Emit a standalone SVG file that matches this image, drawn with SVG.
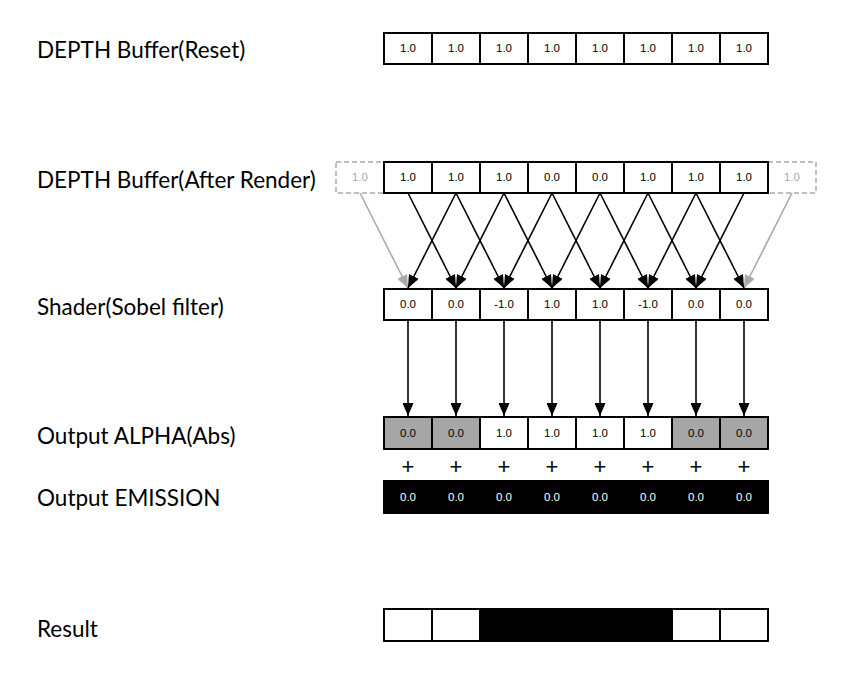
<svg xmlns="http://www.w3.org/2000/svg" width="849" height="674" viewBox="0 0 849 674">
<style>
.lbl{font-family:Lato,"Noto Sans",sans-serif;font-size:22.5px;fill:#000}
.v{font-family:"Liberation Sans",Arial,sans-serif;font-size:11.5px;text-anchor:middle;fill:#000}
.vw{font-family:"Liberation Sans",Arial,sans-serif;font-size:11.5px;text-anchor:middle;fill:#fff}
.vg{font-family:"Liberation Sans",Arial,sans-serif;font-size:11.5px;text-anchor:middle;fill:#aaa}
.c{fill:#fff;stroke:#000;stroke-width:2}
.cg{fill:#a6a6a6;stroke:#000;stroke-width:2}
.cd{fill:none;stroke:#aaa;stroke-width:1.5;stroke-dasharray:5,3}
.a{stroke:#000;stroke-width:1.6;fill:none}
.ag{stroke:#aaa;stroke-width:1.6;fill:none}
.plus{font-family:"Liberation Sans",Arial,sans-serif;font-size:22px;text-anchor:middle;fill:#000}
</style>
<defs>
<marker id="ab" markerUnits="userSpaceOnUse" markerWidth="13" markerHeight="11" refX="13" refY="5.5" orient="auto"><path d="M0,0 L13,5.5 L0,11 z" fill="#000"/></marker>
<marker id="agm" markerUnits="userSpaceOnUse" markerWidth="13" markerHeight="11" refX="13" refY="5.5" orient="auto"><path d="M0,0 L13,5.5 L0,11 z" fill="#aaa"/></marker>
</defs>
<rect width="849" height="674" fill="#fff"/>

<g id="label-reset"><text class="lbl" x="37" y="58">DEPTH Buffer(Reset)</text></g>
<g id="label-after"><text class="lbl" x="37" y="188">DEPTH Buffer(After Render)</text></g>
<g id="label-shader"><text class="lbl" x="37" y="315">Shader(Sobel filter)</text></g>
<g id="label-alpha"><text class="lbl" x="37" y="444">Output ALPHA(Abs)</text></g>
<g id="label-emission"><text class="lbl" x="37" y="506">Output EMISSION</text></g>
<g id="label-result"><text class="lbl" x="37" y="637">Result</text></g>

<g id="row-reset">
<rect class="c" x="384" y="33" width="48" height="31"/><rect class="c" x="432" y="33" width="48" height="31"/><rect class="c" x="480" y="33" width="48" height="31"/><rect class="c" x="528" y="33" width="48" height="31"/><rect class="c" x="576" y="33" width="48" height="31"/><rect class="c" x="624" y="33" width="48" height="31"/><rect class="c" x="672" y="33" width="48" height="31"/><rect class="c" x="720" y="33" width="48" height="31"/>
<text class="v" x="408" y="52">1.0</text><text class="v" x="456" y="52">1.0</text><text class="v" x="504" y="52">1.0</text><text class="v" x="552" y="52">1.0</text><text class="v" x="600" y="52">1.0</text><text class="v" x="648" y="52">1.0</text><text class="v" x="696" y="52">1.0</text><text class="v" x="744" y="52">1.0</text>
</g>

<g id="row-after">
<rect class="cd" x="336" y="162" width="48" height="31"/>
<rect class="cd" x="768" y="162" width="48" height="31"/>
<text class="vg" x="360" y="181">1.0</text><text class="vg" x="792" y="181">1.0</text>
<rect class="c" x="384" y="162" width="48" height="31"/><rect class="c" x="432" y="162" width="48" height="31"/><rect class="c" x="480" y="162" width="48" height="31"/><rect class="c" x="528" y="162" width="48" height="31"/><rect class="c" x="576" y="162" width="48" height="31"/><rect class="c" x="624" y="162" width="48" height="31"/><rect class="c" x="672" y="162" width="48" height="31"/><rect class="c" x="720" y="162" width="48" height="31"/>
<text class="v" x="408" y="181">1.0</text><text class="v" x="456" y="181">1.0</text><text class="v" x="504" y="181">1.0</text><text class="v" x="552" y="181">0.0</text><text class="v" x="600" y="181">0.0</text><text class="v" x="648" y="181">1.0</text><text class="v" x="696" y="181">1.0</text><text class="v" x="744" y="181">1.0</text>
</g>

<g id="row-shader">
<rect class="c" x="384" y="289" width="48" height="31"/><rect class="c" x="432" y="289" width="48" height="31"/><rect class="c" x="480" y="289" width="48" height="31"/><rect class="c" x="528" y="289" width="48" height="31"/><rect class="c" x="576" y="289" width="48" height="31"/><rect class="c" x="624" y="289" width="48" height="31"/><rect class="c" x="672" y="289" width="48" height="31"/><rect class="c" x="720" y="289" width="48" height="31"/>
<text class="v" x="408" y="308">0.0</text><text class="v" x="456" y="308">0.0</text><text class="v" x="504" y="308">-1.0</text><text class="v" x="552" y="308">1.0</text><text class="v" x="600" y="308">1.0</text><text class="v" x="648" y="308">-1.0</text><text class="v" x="696" y="308">0.0</text><text class="v" x="744" y="308">0.0</text>
</g>

<g id="row-alpha">
<rect class="cg" x="384" y="417" width="48" height="32"/><rect class="cg" x="432" y="417" width="48" height="32"/><rect class="c" x="480" y="417" width="48" height="32"/><rect class="c" x="528" y="417" width="48" height="32"/><rect class="c" x="576" y="417" width="48" height="32"/><rect class="c" x="624" y="417" width="48" height="32"/><rect class="cg" x="672" y="417" width="48" height="32"/><rect class="cg" x="720" y="417" width="48" height="32"/>
<text class="v" x="408" y="437">0.0</text><text class="v" x="456" y="437">0.0</text><text class="v" x="504" y="437">1.0</text><text class="v" x="552" y="437">1.0</text><text class="v" x="600" y="437">1.0</text><text class="v" x="648" y="437">1.0</text><text class="v" x="696" y="437">0.0</text><text class="v" x="744" y="437">0.0</text>
</g>

<g id="plus-signs">
<text class="plus" x="408" y="474">+</text><text class="plus" x="456" y="474">+</text><text class="plus" x="504" y="474">+</text><text class="plus" x="552" y="474">+</text><text class="plus" x="600" y="474">+</text><text class="plus" x="648" y="474">+</text><text class="plus" x="696" y="474">+</text><text class="plus" x="744" y="474">+</text>
</g>

<g id="row-emission">
<rect x="383" y="480" width="386" height="34" fill="#000"/>
<text class="vw" x="408" y="501">0.0</text><text class="vw" x="456" y="501">0.0</text><text class="vw" x="504" y="501">0.0</text><text class="vw" x="552" y="501">0.0</text><text class="vw" x="600" y="501">0.0</text><text class="vw" x="648" y="501">0.0</text><text class="vw" x="696" y="501">0.0</text><text class="vw" x="744" y="501">0.0</text>
</g>

<g id="row-result">
<rect class="c" x="384" y="609" width="48" height="32"/><rect class="c" x="432" y="609" width="48" height="32"/>
<rect x="480" y="609" width="192" height="32" fill="#000" stroke="#000" stroke-width="2"/>
<rect class="c" x="672" y="609" width="48" height="32"/><rect class="c" x="720" y="609" width="48" height="32"/>
</g>

<g id="connectors">
<line class="ag" x1="360" y1="193" x2="408" y2="288" marker-end="url(#agm)"/>
<line class="ag" x1="792" y1="193" x2="744" y2="288" marker-end="url(#agm)"/>
<line class="a" x1="408" y1="193" x2="456" y2="288" marker-end="url(#ab)"/>
<line class="a" x1="456" y1="193" x2="408" y2="288" marker-end="url(#ab)"/>
<line class="a" x1="456" y1="193" x2="504" y2="288" marker-end="url(#ab)"/>
<line class="a" x1="504" y1="193" x2="456" y2="288" marker-end="url(#ab)"/>
<line class="a" x1="504" y1="193" x2="552" y2="288" marker-end="url(#ab)"/>
<line class="a" x1="552" y1="193" x2="504" y2="288" marker-end="url(#ab)"/>
<line class="a" x1="552" y1="193" x2="600" y2="288" marker-end="url(#ab)"/>
<line class="a" x1="600" y1="193" x2="552" y2="288" marker-end="url(#ab)"/>
<line class="a" x1="600" y1="193" x2="648" y2="288" marker-end="url(#ab)"/>
<line class="a" x1="648" y1="193" x2="600" y2="288" marker-end="url(#ab)"/>
<line class="a" x1="648" y1="193" x2="696" y2="288" marker-end="url(#ab)"/>
<line class="a" x1="696" y1="193" x2="648" y2="288" marker-end="url(#ab)"/>
<line class="a" x1="696" y1="193" x2="744" y2="288" marker-end="url(#ab)"/>
<line class="a" x1="744" y1="193" x2="696" y2="288" marker-end="url(#ab)"/>
<line class="a" x1="408" y1="320" x2="408" y2="416" marker-end="url(#ab)"/>
<line class="a" x1="456" y1="320" x2="456" y2="416" marker-end="url(#ab)"/>
<line class="a" x1="504" y1="320" x2="504" y2="416" marker-end="url(#ab)"/>
<line class="a" x1="552" y1="320" x2="552" y2="416" marker-end="url(#ab)"/>
<line class="a" x1="600" y1="320" x2="600" y2="416" marker-end="url(#ab)"/>
<line class="a" x1="648" y1="320" x2="648" y2="416" marker-end="url(#ab)"/>
<line class="a" x1="696" y1="320" x2="696" y2="416" marker-end="url(#ab)"/>
<line class="a" x1="744" y1="320" x2="744" y2="416" marker-end="url(#ab)"/>
</g>
</svg>
